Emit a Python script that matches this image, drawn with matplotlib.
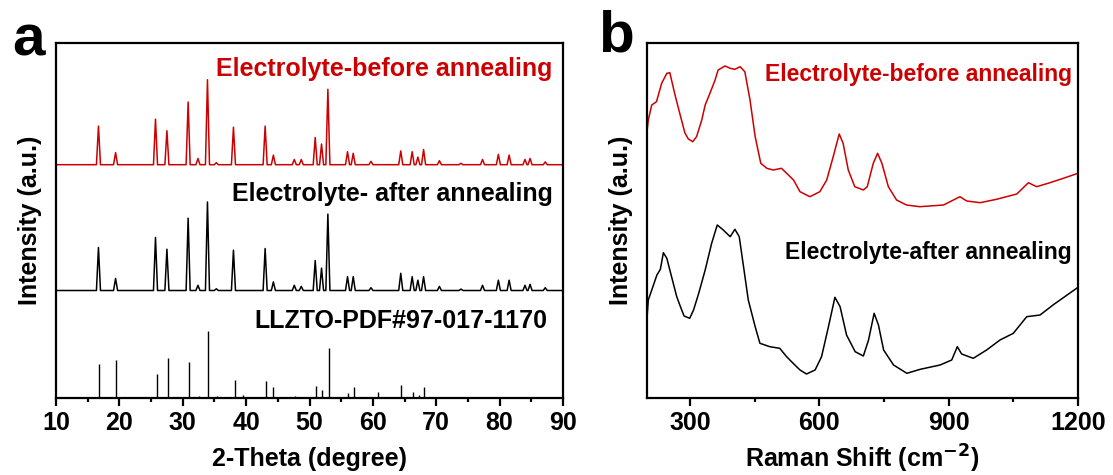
import matplotlib
matplotlib.use("Agg")
import matplotlib.pyplot as plt

plt.rcParams['font.family'] = ['Liberation Sans', 'DejaVu Sans']
plt.rcParams['font.weight'] = 'bold'

# --- XRD (panel a) ---
peak_2theta = [16.7, 19.4, 25.7, 27.5, 30.85, 32.4, 33.9, 35.3, 38.0, 43.0, 44.3,
               47.6, 48.7, 50.9, 51.9, 52.9, 56.0, 56.9, 59.7, 64.4, 66.2, 67.1,
               68.0, 70.5, 73.9, 77.3, 79.8, 81.5, 84.0, 84.8, 87.2]
before_int = [38.6, 12, 45.5, 34, 62.7, 6.2, 85, 2, 37.5, 38.6, 9.6,
              5.2, 5.2, 27.2, 20.7, 75.4, 13, 11.4, 3.4, 13.8, 13, 7.6,
              15.2, 4, 1.4, 5.2, 10.3, 9.6, 5.2, 6.2, 2.8]
after_int = [43, 12, 53, 41.3, 72.3, 5.2, 88.5, 1.7, 40.3, 42, 8.6,
             5.2, 4.1, 30, 22.4, 76.4, 13.8, 13.8, 2.8, 17.2, 13.8, 10.3,
             13.8, 4.1, 1.4, 5.2, 10.3, 10.3, 5.2, 6.2, 2.8]

pdf_2theta = [16.86, 19.4, 25.9, 27.6, 30.95, 32.5, 34.05, 35.4, 38.2, 39.5, 43.1,
              44.3, 47.7, 51.0, 52.0, 53.0, 56.1, 57.1, 60.0, 60.8, 63.7, 64.5,
              66.3, 67.2, 68.1]
pdf_int = [34.4, 37.9, 24.1, 39.6, 36.2, 2.4, 66.8, 1.7, 17.9, 3.4, 16.9,
           11, 2.4, 11.7, 8.3, 49.6, 5.5, 10.7, 1.4, 5.9, 1.4, 13.4,
           6.2, 3.4, 10.7]

# --- Raman (panel b) ---
raman_before_x = [200, 203, 211, 222, 234, 246, 253, 265, 277, 288, 296, 306, 315,
                  327, 335, 346, 358, 365, 381, 393, 404, 416, 427, 439, 451, 464,
                  478, 493, 512, 524, 540, 555, 578, 601, 617, 632, 646, 655, 667,
                  682, 702, 711, 725, 735, 745, 760, 779, 802, 833, 888, 911, 926,
                  942, 973, 1011, 1058, 1085, 1104, 1135, 1166, 1200]
raman_before_y = [266.3, 278, 293, 296.3, 314.7, 324.7, 325.3, 303, 283, 265, 259,
                  256.3, 261.3, 278, 293, 304.7, 318, 328, 332, 329.7, 328.7, 331.3,
                  326.3, 298, 261.3, 234.7, 229.7, 228, 229.7, 224.7, 218, 206.3,
                  201.3, 206.3, 218, 241.3, 264, 254.7, 228, 211.3, 208, 211.3,
                  234.7, 244.7, 234.7, 211.3, 198, 193, 191.3, 193, 198, 201.3,
                  197, 195.3, 198.7, 204, 215.3, 211.3, 215.3, 219.7, 224.7]
raman_after_x = [200, 203, 211, 223, 231, 238, 246, 257, 269, 277, 286, 299, 308,
                 320, 335, 350, 363, 377, 393, 404, 414, 424, 435, 451, 462, 485,
                 508, 524, 539, 555, 570, 590, 605, 621, 636, 648, 663, 683, 702,
                 714, 727, 737, 749, 772, 803, 834, 880, 907, 920, 930, 957, 988,
                 1019, 1050, 1081, 1112, 1142, 1200]
raman_after_y = [79.7, 98, 108, 123, 128.7, 145.3, 139.7, 121.3, 101.3, 92, 82,
                 79.7, 88, 104.7, 128, 154.7, 173, 168, 161.3, 168.7, 161.3, 131.3,
                 98, 71.3, 54.7, 51.3, 49.7, 41.3, 34.7, 28, 24, 28, 41.3, 71.3,
                 100.7, 91.3, 63, 46.3, 42, 58, 84.7, 73, 48, 33, 24.7, 28.7, 33,
                 38, 51.3, 44, 39.7, 48, 58, 64.7, 81.3, 83, 93, 110.7]


def spikes(pos, height, lo, hi, foot=0.32):
    xs, ys = [lo], [0]
    for p, h in zip(pos, height):
        xs += [p - foot, p, p + foot]
        ys += [0, h, 0]
    xs.append(hi)
    ys.append(0)
    return xs, ys


red = '#cc0000'
fig = plt.figure(figsize=(11.13, 4.75), dpi=100)
ax1 = fig.add_axes([56 / 1113, 77 / 475, 507 / 1113, 355 / 475])
ax2 = fig.add_axes([647 / 1113, 77 / 475, 431 / 1113, 355 / 475])

xb, yb = spikes(peak_2theta, before_int, 10, 90)
ax1.plot(xb, [v + 233.3 for v in yb], color=red, lw=1.1)
xa, ya = spikes(peak_2theta, after_int, 10, 90)
ax1.plot(xa, [v + 107.5 for v in ya], color='black', lw=1.1)
ax1.vlines(pdf_2theta, 0, pdf_int, color='black', lw=1.0)

ax1.set_xlim(10, 90)
ax1.set_ylim(0, 355)
ax1.set_xticks(range(10, 91, 10))
ax1.set_xticks(range(15, 90, 10), minor=True)
ax1.set_xlabel('2-Theta (degree)', fontsize=18, fontweight='bold', labelpad=9)
ax1.set_ylabel('Intensity (a.u.)', fontsize=18, fontweight='bold', labelpad=10)
ax1.text(0.98, 329, 'Electrolyte-before annealing', color=red, fontsize=18,
         ha='right', va='center', transform=ax1.get_yaxis_transform())
ax1.text(0.98, 204, 'Electrolyte- after annealing', color='black', fontsize=18,
         ha='right', va='center', transform=ax1.get_yaxis_transform())
ax1.text(0.97, 77, 'LLZTO-PDF#97-017-1170', color='black', fontsize=18,
         ha='right', va='center', transform=ax1.get_yaxis_transform())

ax2.plot(raman_before_x, raman_before_y, color=red, lw=1.1)
ax2.plot(raman_after_x, raman_after_y, color='black', lw=1.1)
ax2.set_xlim(200, 1200)
ax2.set_ylim(0, 355)
ax2.set_xticks([300, 600, 900, 1200])
ax2.set_xticks([450, 750, 1050], minor=True)
ax2.set_xlabel('Raman Shift (cm$^{\\mathbf{-2}}$)', fontsize=18, fontweight='bold', labelpad=6)
ax2.set_ylabel('Intensity (a.u.)', fontsize=18, fontweight='bold', labelpad=10)
ax2.text(0.986, 323, 'Electrolyte-before annealing', color=red, fontsize=16.5,
         ha='right', va='center', transform=ax2.get_yaxis_transform())
ax2.text(0.986, 146, 'Electrolyte-after annealing', color='black', fontsize=16.5,
         ha='right', va='center', transform=ax2.get_yaxis_transform())

for ax in (ax1, ax2):
    ax.set_yticks([])
    for s in ax.spines.values():
        s.set_linewidth(1.6)
    ax.tick_params(axis='x', which='major', direction='out', length=6, width=1.6,
                   labelsize=18, pad=3)
    ax.tick_params(axis='x', which='minor', direction='out', length=3, width=1.6)
    for lab in ax.get_xticklabels():
        lab.set_fontweight('bold')

fig.text(12 / 1113, 1 - 40 / 475, 'a', fontsize=42, fontweight='bold', va='center')
fig.text(598 / 1113, 1 - 36 / 475, 'b', fontsize=42, fontweight='bold', va='center')

fig.savefig('out.png', dpi=100)
